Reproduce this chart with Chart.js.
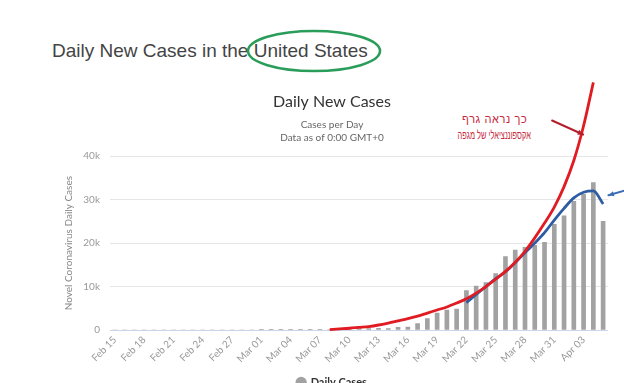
<!DOCTYPE html>
<html><head><meta charset="utf-8">
<script src="https://cdn.jsdelivr.net/npm/chart.js@4/dist/chart.umd.min.js"></script>
<style>
html,body{margin:0;padding:0;background:#fff;overflow:hidden;width:624px;height:383px}
#hdr{position:absolute;left:52px;top:40px;font:19px "Liberation Sans",Arial,sans-serif;line-height:22px;color:#444;white-space:nowrap}
.note{position:absolute;direction:rtl;font-family:"Liberation Sans","DejaVu Sans",sans-serif;color:#c8283c;white-space:nowrap;font-size:11px;line-height:16px;transform-origin:50% 50%}
#n1{left:462px;top:111px;letter-spacing:0.6px}
#n2{left:435px;top:127px;font-size:12px;transform:scaleX(0.62)}
#wrap{position:absolute;left:0;top:0;width:624px;height:398px}
</style></head><body>
<div id="hdr">Daily New Cases in the United States</div>
<div class="note" id="n1">כך נראה גרף</div>
<div class="note" id="n2">אקספוננציאלי של מגפה</div>
<div id="wrap"><canvas id="c" width="624" height="398"></canvas></div>
<script>
const dates = ['Feb 15','Feb 16','Feb 17','Feb 18','Feb 19','Feb 20','Feb 21','Feb 22','Feb 23','Feb 24','Feb 25','Feb 26','Feb 27','Feb 28','Feb 29',
 'Mar 01','Mar 02','Mar 03','Mar 04','Mar 05','Mar 06','Mar 07','Mar 08','Mar 09','Mar 10','Mar 11','Mar 12','Mar 13','Mar 14','Mar 15','Mar 16',
 'Mar 17','Mar 18','Mar 19','Mar 20','Mar 21','Mar 22','Mar 23','Mar 24','Mar 25','Mar 26','Mar 27','Mar 28','Mar 29','Mar 30','Mar 31',
 'Apr 01','Apr 02','Apr 03','Apr 04','Apr 05'];
const xTickLabels = ['Feb 15','Feb 18','Feb 21','Feb 24','Feb 27','Mar 01','Mar 04','Mar 07','Mar 10','Mar 13','Mar 16','Mar 19','Mar 22','Mar 25','Mar 28','Mar 31','Apr 03'];
const yTicks = [0, 10000, 20000, 30000, 40000];
const dailyCases = [0,0,0,0,0,0,0,0,0,0,0,0,0,0,0,
 10,20,30,30,70,60,100,120,150,200,250,350,400,300,600,700,
 1500,2600,3900,4600,4800,9100,10100,10900,13000,16900,18400,19000,19500,20200,24300,
 26300,29600,31200,33900,25000];
const exponentialCurve = [null,null,null,null,null,null,null,null,null,null,null,null,null,null,null,
 null,null,null,null,null,null,null,100,250,400,600,800,1150,1600,2100,2600,
 3200,3900,4600,5300,6200,7200,8500,10000,11700,13500,15600,18100,21200,24600,28300,
 33000,39000,47000,57000,null];
const trendCurve = [null,null,null,null,null,null,null,null,null,null,null,null,null,null,null,
 null,null,null,null,null,null,null,null,null,null,null,null,null,null,null,null,
 null,null,null,null,null,6300,8200,10000,11800,13400,15500,17800,20000,22400,25300,
 28000,30400,31700,32000,29000];

function arrow(ctx, x0, y0, x1, y1, color, w){
  ctx.strokeStyle = color; ctx.fillStyle = color; ctx.lineWidth = w; ctx.lineCap='round';
  ctx.beginPath(); ctx.moveTo(x0,y0); ctx.lineTo(x1,y1); ctx.stroke();
  const a = Math.atan2(y1-y0, x1-x0), L = 6;
  ctx.beginPath(); ctx.moveTo(x1,y1);
  ctx.lineTo(x1 - L*Math.cos(a-0.45), y1 - L*Math.sin(a-0.45));
  ctx.lineTo(x1 - L*Math.cos(a+0.45), y1 - L*Math.sin(a+0.45));
  ctx.closePath(); ctx.fill();
}
const annot = {
  id:'annot',
  afterDraw(chart){
    const {ctx, scales:{x,y}} = chart;
    ctx.save();
    const rx = x.getPixelForValue(47.95), ry = y.getPixelForValue(45000);
    arrow(ctx, rx-31, ry-14, rx, ry, '#b3202c', 2);
    const bx = x.getPixelForValue(50.55), by = y.getPixelForValue(31000);
    arrow(ctx, bx+17, by-5, bx, by, '#3c6cb4', 2);
    ctx.strokeStyle='#2a9d5a'; ctx.lineWidth=2.6;
    ctx.beginPath(); ctx.ellipse(314,51,66,20,0,0,Math.PI*2); ctx.stroke();
    ctx.restore();
  }
};

new Chart(document.getElementById('c'), {
  type:'bar',
  data:{labels:dates, datasets:[
    {type:'line', label:'Exponential', data:exponentialCurve, borderColor:'#e01b22', borderWidth:2.8, pointRadius:0, cubicInterpolationMode:'monotone', clip:false, order:1},
    {type:'line', label:'Trend', data:trendCurve, borderColor:'#2d5ca3', borderWidth:2.8, pointRadius:0, cubicInterpolationMode:'monotone', clip:false, order:2},
    {label:'Daily Cases', data:dailyCases, backgroundColor:'#a2a2a2', barThickness:4, order:3}
  ]},
  options:{
    responsive:false, animation:false,
    layout:{padding:{top:92,right:16,left:56,bottom:0}},
    plugins:{
      title:{display:true,text:'Daily New Cases',font:{family:'Lato',size:16,weight:'normal'},color:'#333',padding:{top:0,bottom:7}},
      subtitle:{display:true,text:['Cases per Day','Data as of 0:00 GMT+0'],font:{family:'Lato',size:10,lineHeight:1.3},color:'#666',padding:{top:0,bottom:12}},
      legend:{position:'bottom', labels:{filter:(i)=>i.datasetIndex===2, usePointStyle:true, pointStyle:'circle', boxWidth:8, boxHeight:8, font:{family:'Lato',size:11,weight:'bold'}, color:'#333'}},
      tooltip:{enabled:false}
    },
    scales:{
      x:{grid:{display:false}, border:{display:false},
         ticks:{autoSkip:false, maxRotation:45, minRotation:45, color:'#999', font:{family:'Lato',size:10}, padding:-4,
           callback:function(v){const l=this.getLabelForValue(v); return xTickLabels.includes(l)?l:'';}},
         afterFit:(s)=>{s.height=37;}},
      y:{min:0, max:40000,
         afterBuildTicks:(s)=>{s.ticks = yTicks.map(v=>({value:v}));},
         ticks:{color:'#999', font:{family:'Lato',size:10}, padding:10, callback:(v)=> v===0?'0':(v/1000)+'k'},
         grid:{color:(c)=> (c.tick && c.tick.value===0)?'#ccd6eb':'#e6e6e6', drawTicks:false},
         border:{display:false},
         title:{display:true, text:'Novel Coronavirus Daily Cases', color:'#888', font:{family:'Lato',size:10}, padding:{top:7,bottom:0}},
         afterFit:(s)=>{s.width=54;}}
    }
  },
  plugins:[annot]
});
</script>
</body></html>
